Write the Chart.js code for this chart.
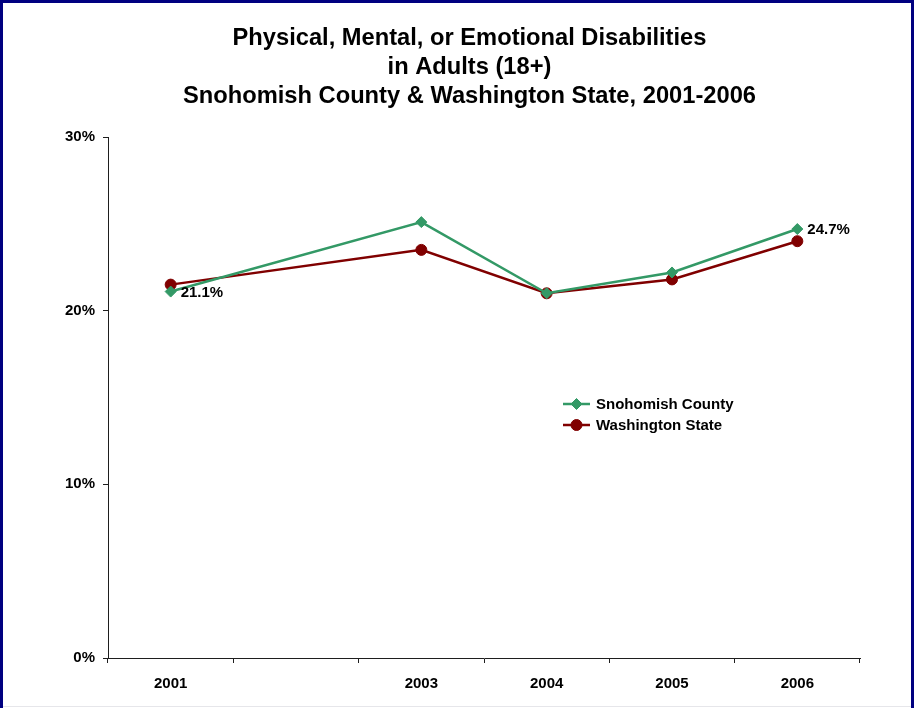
<!DOCTYPE html>
<html>
<head>
<meta charset="utf-8">
<title>Physical, Mental, or Emotional Disabilities in Adults (18+)</title>
<script src="https://cdn.jsdelivr.net/npm/chart.js@4.4.1/dist/chart.umd.min.js"></script>
<style>
    html, body { margin: 0; padding: 0; background: #ffffff; }
    #page { position: relative; width: 914px; height: 708px; overflow: hidden; }
    #disabilityChart { position: absolute; left: 0; top: 0; }
    .frame {
        position: absolute; left: 0; top: 0; width: 914px; height: 730px;
        box-sizing: border-box; border: 3px solid #000080; pointer-events: none;
    }
    .bottom-rule { position: absolute; left: 3px; right: 3px; top: 706px; height: 1px; background: #e6e6ea; }
</style>
</head>
<body>
<div id="page">
    <canvas id="disabilityChart" width="914" height="708"></canvas>
    <div class="bottom-rule"></div>
    <div class="frame"></div>
</div>
<script>
// Chart data
const years = ['2001', '2002', '2003', '2004', '2005', '2006'];
const snohomishCounty = [21.1, null, 25.1, 21.0, 22.2, 24.7];
const washingtonState = [21.5, null, 23.5, 21.0, 21.8, 24.0];
const yTicks = [0, 10, 20, 30];
const titleLines = [
    'Physical, Mental, or Emotional Disabilities',
    'in Adults (18+)',
    'Snohomish County & Washington State, 2001-2006'
];
// points that carry a value label: [dataset index, point index]
const labelledPoints = [[0, 0], [0, 5]];

const FONT = "'Liberation Sans', Arial, sans-serif";
const GREEN = '#339966';
const MAROON = '#800000';
const AXIS = '#1e1e1e';

/**
 * Draws the value labels beside selected points
 */
const valueLabels = {
    id: 'valueLabels',
    afterDatasetsDraw(chart) {
        const ctx = chart.ctx;
        ctx.save();
        ctx.font = `bold 15px ${FONT}`;
        ctx.fillStyle = '#000000';
        ctx.textAlign = 'left';
        ctx.textBaseline = 'middle';
        labelledPoints.forEach(([ds, idx]) => {
            const point = chart.getDatasetMeta(ds).data[idx];
            const value = chart.data.datasets[ds].data[idx];
            ctx.fillText(value.toFixed(1) + '%', point.x + 10, point.y + 1);
        });
        ctx.restore();
    }
};

/**
 * Legend box sitting inside the plot area, to the right of the middle
 */
const insideLegend = {
    id: 'insideLegend',
    afterDraw(chart, args, opts) {
        const ctx = chart.ctx;
        ctx.save();
        chart.data.datasets.forEach((ds, i) => {
            const y = opts.y + i * opts.rowGap;
            ctx.strokeStyle = ds.borderColor;
            ctx.lineWidth = ds.borderWidth;
            ctx.beginPath();
            ctx.moveTo(opts.x, y);
            ctx.lineTo(opts.x + opts.lineLength, y);
            ctx.stroke();

            ctx.fillStyle = ds.pointBackgroundColor;
            ctx.strokeStyle = ds.pointBorderColor;
            ctx.lineWidth = 1;
            Chart.helpers.drawPoint(ctx, {
                pointStyle: ds.pointStyle,
                radius: ds.pointRadius,
                rotation: 0,
                borderWidth: 1
            }, opts.x + opts.lineLength / 2, y);

            ctx.font = `bold 15px ${FONT}`;
            ctx.fillStyle = '#000000';
            ctx.textAlign = 'left';
            ctx.textBaseline = 'middle';
            ctx.fillText(ds.label, opts.x + opts.lineLength + 6, y + 1);
        });
        ctx.restore();
    }
};

/**
 * The original title is centred a little right of the canvas middle:
 * narrow the title box on the left after layout
 */
const titleOffset = {
    id: 'titleOffset',
    afterLayout(chart, args, opts) {
        if (chart.titleBlock) {
            chart.titleBlock.left = opts.left;
        }
    }
};

const ctx = document.getElementById('disabilityChart').getContext('2d');
const disabilityChart = new Chart(ctx, {
    type: 'line',
    data: {
        labels: years,
        datasets: [
            {
                label: 'Snohomish County',
                data: snohomishCounty,
                borderColor: GREEN,
                borderWidth: 2.5,
                pointStyle: 'rectRot',
                pointRadius: 5.5,
                pointBackgroundColor: GREEN,
                pointBorderColor: GREEN,
                pointBorderWidth: 1,
                spanGaps: true,
                tension: 0
            },
            {
                label: 'Washington State',
                data: washingtonState,
                borderColor: MAROON,
                borderWidth: 2.5,
                pointStyle: 'circle',
                pointRadius: 5.5,
                pointBackgroundColor: MAROON,
                pointBorderColor: MAROON,
                pointBorderWidth: 1,
                spanGaps: true,
                tension: 0
            }
        ]
    },
    options: {
        responsive: false,
        animation: false,
        layout: {
            padding: { left: 20, right: 54, top: 0, bottom: 0 }
        },
        scales: {
            x: {
                type: 'category',
                offset: true,
                afterFit: (scale) => { scale.height = 50; },
                grid: {
                    offset: true,
                    drawOnChartArea: false,
                    drawTicks: true,
                    tickLength: 5,
                    color: AXIS,
                    tickColor: AXIS
                },
                border: { color: AXIS, width: 1 },
                ticks: {
                    color: '#000000',
                    font: { family: FONT, size: 15, weight: 'bold' },
                    padding: 12,
                    maxRotation: 0,
                    autoSkip: false,
                    // years without survey data carry no label
                    callback: (value, index) => (snohomishCounty[index] === null ? '' : years[index])
                }
            },
            y: {
                min: yTicks[0],
                max: yTicks[yTicks.length - 1],
                afterFit: (scale) => { scale.width = 88; },
                afterBuildTicks: (scale) => { scale.ticks = yTicks.map(v => ({ value: v })); },
                grid: {
                    drawOnChartArea: false,
                    drawTicks: true,
                    tickLength: 5,
                    color: AXIS,
                    tickColor: AXIS
                },
                border: { color: AXIS, width: 1 },
                ticks: {
                    color: '#000000',
                    font: { family: FONT, size: 15, weight: 'bold' },
                    padding: 8,
                    callback: (value) => value + '%'
                }
            }
        },
        plugins: {
            legend: { display: false },
            tooltip: { enabled: false },
            title: {
                display: true,
                text: titleLines,
                color: '#000000',
                font: { family: FONT, size: 23.7, weight: 'bold', lineHeight: 29 / 23.7 },
                padding: { top: 23.5, bottom: 26.5 }
            },
            titleOffset: { left: 79 },
            insideLegend: { x: 563, y: 404, rowGap: 21, lineLength: 27 }
        }
    },
    plugins: [valueLabels, insideLegend, titleOffset]
});
</script>
</body>
</html>
